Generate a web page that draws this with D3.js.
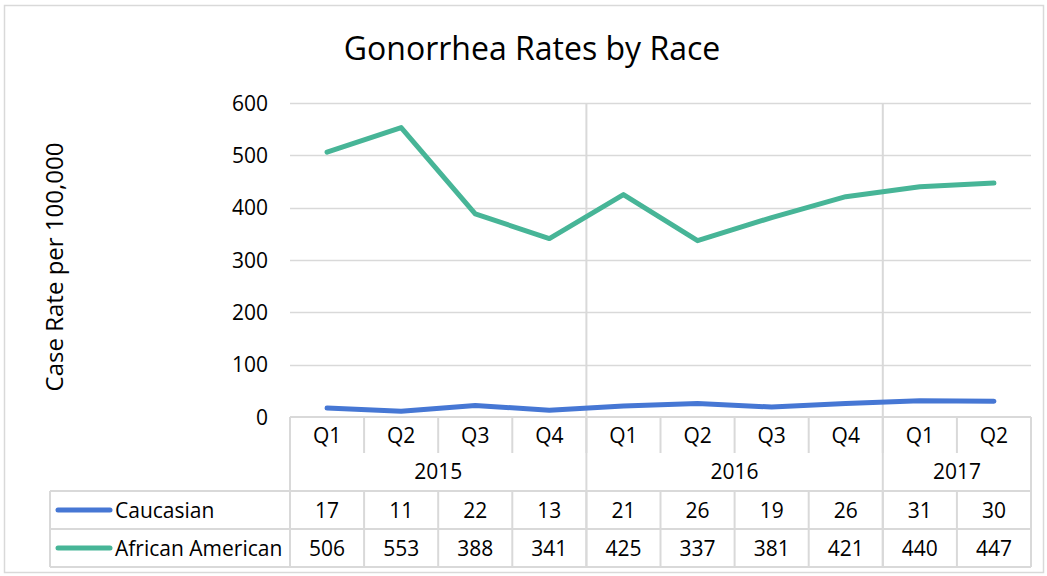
<!DOCTYPE html>
<html>
<head>
<meta charset="utf-8">
<script src="https://cdn.jsdelivr.net/npm/d3@7"></script>
<style>
  body { margin: 0; background: #fff; }
  text { font-family: "Open Sans", sans-serif; fill: #000; }
</style>
</head>
<body>
<div id="chart"></div>
<script>
const quarters = ["Q1", "Q2", "Q3", "Q4", "Q1", "Q2", "Q3", "Q4", "Q1", "Q2"];
const years = [
  { label: "2015", start: 0, end: 4 },
  { label: "2016", start: 4, end: 8 },
  { label: "2017", start: 8, end: 10 }
];
const caucasian = [17, 11, 22, 13, 21, 26, 19, 26, 31, 30];
const africanAmerican = [506, 553, 388, 341, 425, 337, 381, 421, 440, 447];
const yTicks = [0, 100, 200, 300, 400, 500, 600];

const series = [
  { name: "Caucasian", values: caucasian, color: "#4677D4" },
  { name: "African American", values: africanAmerican, color: "#47B597" }
];

const width = 1047;
const height = 576;
const plot = { left: 290, right: 1031, top: 103, bottom: 417 };
const rowH = { q: 36, year: 38, data: 38 };
const tableLeft = 50;
const grid = "#d9d9d9";
const fs = "21px";

const svg = d3.select("#chart").append("svg")
  .attr("width", width)
  .attr("height", height);

svg.append("rect")
  .attr("x", 4.5).attr("y", 5.5)
  .attr("width", 1039).attr("height", 567)
  .attr("fill", "#fff").attr("stroke", grid).attr("stroke-width", 1.5);

const x = d3.scaleBand()
  .domain(d3.range(quarters.length))
  .range([plot.left, plot.right]);

const y = d3.scaleLinear()
  .domain([0, 600])
  .range([plot.bottom, plot.top]);

const cx = (i) => x(i) + x.bandwidth() / 2;

// title
svg.append("text")
  .attr("x", 532).attr("y", 60)
  .attr("text-anchor", "middle")
  .style("font-size", "32px")
  .text("Gonorrhea Rates by Race");

// y label
svg.append("text")
  .attr("transform", `translate(63, 267) rotate(-90)`)
  .attr("text-anchor", "middle")
  .style("font-size", "24px")
  .text("Case Rate per 100,000");

// horizontal gridlines
svg.append("g")
  .selectAll("line")
  .data(yTicks.filter((d) => d > 0))
  .join("line")
  .attr("x1", plot.left).attr("x2", plot.right)
  .attr("y1", (d) => Math.round(y(d)) + 0.5)
  .attr("y2", (d) => Math.round(y(d)) + 0.5)
  .attr("stroke", grid).attr("stroke-width", 1.5);

// y tick labels
svg.append("g")
  .selectAll("text")
  .data(yTicks)
  .join("text")
  .attr("x", 268)
  .attr("y", (d) => y(d) + 7.5)
  .attr("text-anchor", "end")
  .style("font-size", fs)
  .text((d) => d);

// table geometry
const qTop = plot.bottom;
const yearTop = qTop + rowH.q;
const dataTop = yearTop + rowH.year;
const tableBottom = dataTop + rowH.data * 2;

const tbl = svg.append("g").attr("stroke", grid).attr("stroke-width", 2);

// year separators run from top of plot through the table
years.forEach((yr) => {
  if (yr.start > 0) {
    tbl.append("line")
      .attr("x1", x(yr.start)).attr("x2", x(yr.start))
      .attr("y1", plot.top).attr("y2", tableBottom);
  }
});
// outer table edges
tbl.append("line").attr("x1", plot.left).attr("x2", plot.left).attr("y1", qTop).attr("y2", tableBottom);
tbl.append("line").attr("x1", plot.right).attr("x2", plot.right).attr("y1", qTop).attr("y2", tableBottom);
tbl.append("line").attr("x1", tableLeft).attr("x2", tableLeft).attr("y1", dataTop).attr("y2", tableBottom);

// quarter dividers
quarters.forEach((q, i) => {
  if (i > 0) {
    tbl.append("line")
      .attr("x1", x(i)).attr("x2", x(i))
      .attr("y1", qTop).attr("y2", yearTop);
    tbl.append("line")
      .attr("x1", x(i)).attr("x2", x(i))
      .attr("y1", dataTop).attr("y2", tableBottom);
  }
});

// horizontal table lines
tbl.append("line").attr("x1", plot.left).attr("x2", plot.right).attr("y1", qTop).attr("y2", qTop);
[dataTop, dataTop + rowH.data, tableBottom].forEach((yy) => {
  tbl.append("line").attr("x1", tableLeft).attr("x2", plot.right).attr("y1", yy).attr("y2", yy);
});

// quarter labels
svg.append("g")
  .selectAll("text")
  .data(quarters)
  .join("text")
  .attr("x", (d, i) => cx(i))
  .attr("y", qTop + 26)
  .attr("text-anchor", "middle")
  .style("font-size", fs)
  .text((d) => d);

// year labels
svg.append("g")
  .selectAll("text")
  .data(years)
  .join("text")
  .attr("x", (d) => (x(d.start) + x(d.end - 1) + x.bandwidth()) / 2)
  .attr("y", yearTop + 26)
  .attr("text-anchor", "middle")
  .style("font-size", fs)
  .text((d) => d.label);

// data rows with legend keys
series.forEach((s, r) => {
  const rowY = dataTop + rowH.data * r;
  const mid = rowY + rowH.data / 2;
  svg.append("line")
    .attr("x1", 58).attr("x2", 110)
    .attr("y1", mid).attr("y2", mid)
    .attr("stroke", s.color).attr("stroke-width", 5)
    .attr("stroke-linecap", "round");
  svg.append("text")
    .attr("x", 115).attr("y", mid + 7.5)
    .style("font-size", fs)
    .text(s.name);
  svg.append("g")
    .selectAll("text")
    .data(s.values)
    .join("text")
    .attr("x", (d, i) => cx(i))
    .attr("y", mid + 7.5)
    .attr("text-anchor", "middle")
    .style("font-size", fs)
    .text((d) => d);
});

// series lines
const line = d3.line()
  .x((d, i) => cx(i))
  .y((d) => y(d));

series.forEach((s) => {
  svg.append("path")
    .datum(s.values)
    .attr("fill", "none")
    .attr("stroke", s.color)
    .attr("stroke-width", 5)
    .attr("stroke-linejoin", "round")
    .attr("stroke-linecap", "round")
    .attr("d", line);
});
</script>
</body>
</html>
